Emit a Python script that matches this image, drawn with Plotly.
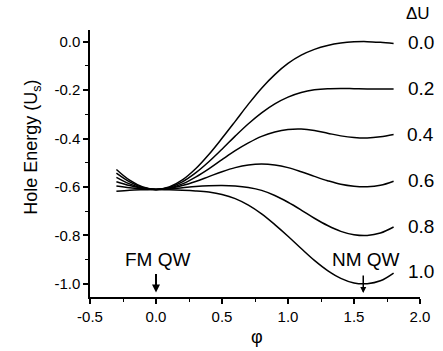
import plotly.graph_objects as go

phi = [-0.3, -0.2, -0.1, 0.0, 0.1, 0.2, 0.3, 0.4, 0.5, 0.6, 0.7, 0.8, 0.9,
       1.0, 1.1, 1.2, 1.3, 1.4, 1.5, 1.6, 1.7, 1.8]

e_du00 = [-0.528, -0.572, -0.600, -0.610, -0.600, -0.571, -0.525, -0.466, -0.399, -0.329,
          -0.258, -0.192, -0.136, -0.090, -0.056, -0.032, -0.016, -0.006, -0.001, 0.000,
          -0.003, -0.008]
e_du02 = [-0.543, -0.579, -0.602, -0.610, -0.602, -0.579, -0.542, -0.496, -0.444, -0.390,
          -0.339, -0.294, -0.257, -0.229, -0.210, -0.199, -0.194, -0.193, -0.194, -0.195,
          -0.195, -0.195]
e_du04 = [-0.560, -0.587, -0.604, -0.610, -0.604, -0.587, -0.559, -0.525, -0.487, -0.450,
          -0.418, -0.391, -0.373, -0.363, -0.361, -0.367, -0.378, -0.389, -0.396, -0.398,
          -0.393, -0.383]
e_du06 = [-0.578, -0.594, -0.606, -0.610, -0.606, -0.594, -0.577, -0.557, -0.537, -0.520,
          -0.509, -0.505, -0.509, -0.520, -0.537, -0.556, -0.574, -0.589, -0.597, -0.599,
          -0.593, -0.576]
e_du08 = [-0.596, -0.603, -0.608, -0.610, -0.608, -0.603, -0.598, -0.595, -0.594, -0.596,
          -0.602, -0.614, -0.635, -0.663, -0.695, -0.729, -0.759, -0.783, -0.797, -0.800,
          -0.790, -0.765]
e_du10 = [-0.618, -0.613, -0.611, -0.610, -0.611, -0.613, -0.616, -0.621, -0.631, -0.648,
          -0.675, -0.711, -0.755, -0.803, -0.854, -0.903, -0.945, -0.977, -0.996, -0.999,
          -0.987, -0.955]

series = [e_du00, e_du02, e_du04, e_du06, e_du08, e_du10]
du_labels = ["0.0", "0.2", "0.4", "0.6", "0.8", "1.0"]
du_label_y = [-0.005, -0.194, -0.384, -0.574, -0.763, -0.948]
x_ticks = [-0.5, 0.0, 0.5, 1.0, 1.5, 2.0]
y_ticks = [0.0, -0.2, -0.4, -0.6, -0.8, -1.0]
qw_positions = [0.0, 1.57]
qw_labels = ["FM QW", "NM QW"]

FONT = "Liberation Sans, Arial, sans-serif"

fig = go.Figure()
for ys in series:
    fig.add_trace(go.Scatter(x=phi, y=ys, mode="lines",
                             line=dict(color="black", width=1.5, shape="spline"),
                             showlegend=False, hoverinfo="skip"))

annotations = []
annotations.append(dict(x=0.994, y=1.06, xref="paper", yref="paper", text="ΔU", showarrow=False,
                        font=dict(family=FONT, size=17, color="black"),
                        xanchor="center", yanchor="middle"))
for lab, ly in zip(du_labels, du_label_y):
    annotations.append(dict(x=1.003, y=ly, xref="paper", yref="y", text=lab, showarrow=False,
                            font=dict(family=FONT, size=19, color="black"),
                            xanchor="center", yanchor="middle"))

# QW labels and arrows
annotations.append(dict(x=0.01, y=-0.898, xref="x", yref="y", text=qw_labels[0], showarrow=False,
                        font=dict(family=FONT, size=19, color="black"), xanchor="center", yanchor="middle"))
annotations.append(dict(x=1.59, y=-0.898, xref="x", yref="y", text=qw_labels[1], showarrow=False,
                        font=dict(family=FONT, size=19, color="black"), xanchor="center", yanchor="middle"))
annotations.append(dict(x=qw_positions[0], y=-1.035, xref="x", yref="y", ax=0, ay=-20, text="",
                        showarrow=True, arrowhead=2, arrowsize=0.8, arrowwidth=2, arrowcolor="black"))
annotations.append(dict(x=qw_positions[1], y=-1.038, xref="x", yref="y", ax=0, ay=-19, text="",
                        showarrow=True, arrowhead=2, arrowsize=0.8, arrowwidth=1.5, arrowcolor="black"))

# axis titles
annotations.append(dict(x=-0.173, y=0.562, xref="paper", yref="paper",
                        text="Hole Energy (U<sub>s</sub>)", textangle=-90, showarrow=False,
                        font=dict(family=FONT, size=18, color="black"),
                        xanchor="center", yanchor="middle"))
annotations.append(dict(x=0.505, y=-0.15, xref="paper", yref="paper", text="φ", showarrow=False,
                        font=dict(family=FONT, size=18, color="black"),
                        xanchor="center", yanchor="middle"))

fig.update_layout(
    width=443, height=351,
    margin=dict(l=90, r=23, t=30, b=54),
    paper_bgcolor="white", plot_bgcolor="white",
    font=dict(family=FONT, size=14, color="black"),
    annotations=annotations,
)
fig.update_xaxes(
    range=[-0.5, 2.0], tickvals=x_ticks, ticktext=[f"{v:.1f}" for v in x_ticks],
    showgrid=False, zeroline=False, showline=True, linecolor="black", linewidth=1.5,
    ticks="outside", ticklen=5, tickwidth=1.5, tickcolor="black",
    minor=dict(dtick=0.25, tick0=-0.5, ticks="outside", ticklen=3, tickwidth=1, tickcolor="black"),
    tickfont=dict(family=FONT, size=15),
)
fig.update_yaxes(
    range=[-1.054, 0.048], tickvals=y_ticks, ticktext=[f"{v:.1f}" for v in y_ticks],
    showgrid=False, zeroline=False, showline=True, linecolor="black", linewidth=1.5,
    ticks="outside", ticklen=5, tickwidth=1.5, tickcolor="black",
    minor=dict(dtick=0.1, tick0=0.0, ticks="outside", ticklen=3, tickwidth=1, tickcolor="black"),
    tickfont=dict(family=FONT, size=15),
)

fig.write_html("out.html", config={"displayModeBar": False},
               post_script="document.body.style.margin='0';document.body.style.overflow='hidden';")
